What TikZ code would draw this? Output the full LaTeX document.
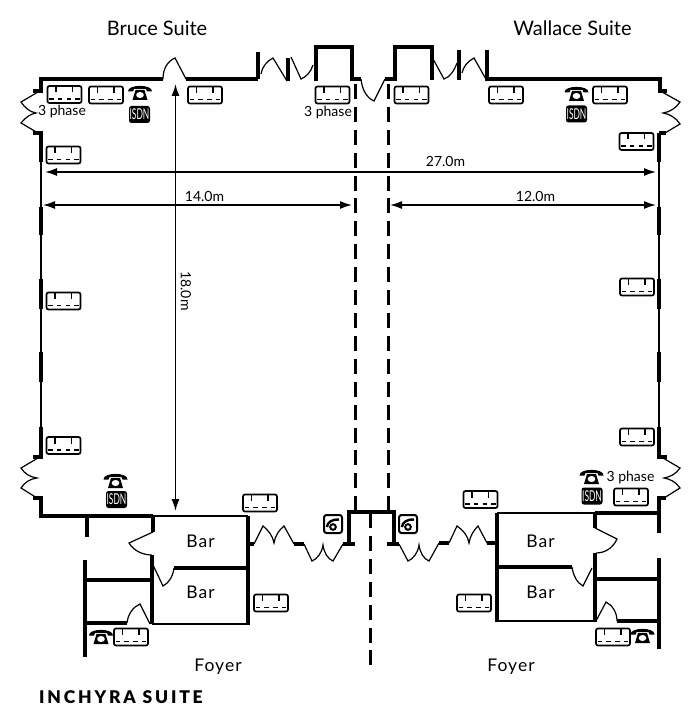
\documentclass[tikz,border=0pt]{standalone}
\usepackage{fontspec}
\setmainfont{Lato}
\newfontfamily\barfont[LetterSpace=6]{Lato}
\newfontfamily\titlefont[LetterSpace=16]{Lato Black}
\usetikzlibrary{arrows.meta}
\tikzset{
  wall/.style={line width=4pt},
  wallthin/.style={line width=2.4pt},
  wallhair/.style={line width=1.2pt},
  door/.style={line width=1.2pt},
  partition/.style={line width=3pt,dash pattern=on 15pt off 7.9pt},
  dimension/.style={line width=1.5pt,{Latex[length=12pt,width=8pt]}-{Latex[length=12pt,width=8pt]}},
  suitelabel/.style={font=\fontsize{20}{24}\selectfont},
  smalllabel/.style={font=\fontsize{14}{17}\selectfont},
  barlabel/.style={font=\barfont\fontsize{17.5}{21}\selectfont},
  every pic/.style={yscale=-1},
  socket/.pic={
    \draw [line width=1.7pt,rounded corners=2pt] (-17,-8.5) rectangle (17,8.5);
    \draw [line width=1.7pt] (-8.5,-8) -- (-8.5,-2) (8,-8) -- (8,-2);
    \draw [line width=1.7pt,dash pattern=on 4.5pt off 4.3pt] (-15.5,4.5) -- (15.5,4.5);
  },
  handset/.pic={
    \fill (-12,-1.5) .. controls (-12.5,-9) and (12.5,-9) .. (12,-1.5) -- (7,-1.5) -- (6,-4) -- (-6,-4) -- (-7,-1.5) -- cycle;
    \fill (-4.5,-3) -- (4.5,-3) -- (7.5,7) -- (-7.5,7) -- cycle;
    \fill [white] (0,2) ellipse (3.8 and 3);
  },
  isdn/.pic={
    \fill [rounded corners=2.5pt] (-10.5,-8.5) rectangle (10.5,8.5);
    \node (-label) [white,inner sep=0pt,font=\fontsize{15}{17}\selectfont,xscale=0.56] at (0,0) {ISDN};
  },
  wallphone/.pic={
    \draw [line width=2pt,rounded corners=2.5pt] (-9,-9) rectangle (9,9);
    \draw [line width=2pt] (0,3) circle (2.8);
    \draw [line width=2.4pt] (-6,3) .. controls (-6,-2) and (0,-5) .. (6,-4.5);
  }
}
\begin{document}
\begin{tikzpicture}[x=1pt,y=1pt,yscale=-1,xscale=1]
\useasboundingbox (0,0) rectangle (700,727);

%Outer wall, top left
\draw [wall] (33,91) -- (41,91) -- (41,79) -- (163,79) ;
\draw [wall] (186,79) -- (258,79) ;
\draw [wall] (258,79) -- (258,52) ;
\draw [wall] (288,58) -- (288,81) ;
\draw [wall] (315.5,81) -- (315.5,47) -- (351.5,47) -- (351.5,79) -- (361,79) ;
%Outer wall, top right
\draw [wall] (385,79) -- (395,79) -- (395,47) -- (432,47) -- (432,80) ;
\draw [wall] (459,50) -- (459,80) ;
\draw [wall] (487,50) -- (487,79) -- (660,79) -- (660,91) -- (667,91) ;

%Doors, top
\draw [door] (163,79) .. controls (163,68) and (168,61) .. (175,58) -- (186,79) ;
\draw [door] (261,74) .. controls (262,67) and (267,61) .. (273,58) -- (287,81) ;
\draw [door] (291,57) -- (301,79) .. controls (306,77) and (311,72) .. (313,65) ;
\draw [door] (361,79) .. controls (362,90) and (367,98) .. (374,101) -- (385,79) ;
\draw [door] (432,57) -- (444,79) .. controls (450,77) and (454,71) .. (457,63) ;
\draw [door] (462,73) .. controls (463,67) and (468,61) .. (474,58) -- (487,81) ;

%Side doors
\draw [door] (38,92) -- (21,102) .. controls (25,108) and (30,112) .. (36,113) .. controls (30,114) and (25,118) .. (21,123) -- (38,133) ;
\draw [door] (38,458) -- (21,468) .. controls (25,474) and (30,477) .. (37,478) .. controls (30,479) and (25,482) .. (21,488) -- (37,498) ;
\draw [door] (662,92) -- (680,102) .. controls (676,108) and (670,112) .. (663,113) .. controls (670,114) and (676,118) .. (680,124) -- (665,133) ;
\draw [door] (663,458) -- (680,468) .. controls (676,474) and (670,477) .. (664,478) .. controls (670,479) and (676,482) .. (680,488) -- (664,498) ;

%Left wall
\draw [wall] (33,133) -- (41,133) -- (41,162) ;
\draw [wallhair] (41,162) -- (41,427) ;
\draw [wall] (41,207) -- (41,235) ;
\draw [wall] (41,279) -- (41,309) ;
\draw [wall] (41,352) -- (41,382) ;
\draw [wall] (41,427) -- (41,457) -- (33,457) ;
\draw [wall] (33,498) -- (41,498) -- (41,516) -- (153,516) ;

%Right wall
\draw [wall] (659,133) -- (666,133) ;
\draw [wall] (659,133) -- (659,162) ;
\draw [wallhair] (659,162) -- (659,427) ;
\draw [wall] (659,207) -- (659,235) ;
\draw [wall] (659,279) -- (659,309) ;
\draw [wall] (659,352) -- (659,382) ;
\draw [wall] (659,427) -- (659,457) -- (667,457) ;
\draw [wall] (666,498) -- (659,498) -- (659,533) ;
\draw [wall] (595,513) -- (659,513) ;

%Left bars and back rooms
\draw [wall] (87,516) -- (87,537) ;
\draw [wall] (153,516) -- (153,532) ;
\draw [door] (153,532) -- (129,543) .. controls (134,551) and (143,555) .. (152,555) ;
\draw [wall] (152,555) -- (152,624) ;
\draw [wallthin] (152,516) -- (248,516) ;
\draw [wall] (248,516) -- (248,625) ;
\draw [wall] (174,568) -- (248,568) ;
\draw [door] (174,568) .. controls (173,576) and (169,583) .. (163,586) -- (153,565) ;
\draw [wallthin] (152,624) -- (248,624) ;
\draw [wall] (85,560) -- (85,657) ;
\draw [wall] (85,580) -- (152,580) ;
\draw [wall] (85,623) -- (127,623) ;
\draw [door] (127,623) .. controls (128,614) and (133,607) .. (140,604) -- (150,624) ;

%Right bars and back rooms
\draw [wall] (595,513) -- (595,528) ;
\draw [door] (595,528) -- (617,539) .. controls (613,548) and (605,553) .. (596,553) ;
\draw [wall] (595,553) -- (595,622) ;
\draw [wallthin] (497,513) -- (595,513) ;
\draw [wall] (497,513) -- (497,622) ;
\draw [wall] (497,567) -- (572,567) ;
\draw [door] (572,567) .. controls (573,575) and (577,583) .. (583,586) -- (592,568) ;
\draw [wallthin] (497,621) -- (595,621) ;
\draw [wall] (659,558) -- (659,649) ;
\draw [wall] (595,579) -- (659,579) ;
\draw [wall] (617,621) -- (659,621) ;
\draw [door] (596,621) -- (606,602) .. controls (612,605) and (617,612) .. (617,621) ;

%Doors to the foyer
\draw [wall] (248,544) -- (254,544) ;
\draw [door] (254,544) -- (263,526) .. controls (268,530) and (273,536) .. (274,543) .. controls (275,536) and (279,530) .. (284,526) -- (294,544) ;
\draw [wall] (294,544) -- (304,544) ;
\draw [door] (304,544) -- (312,561) .. controls (317,559) and (322,553) .. (323,545) .. controls (324,553) and (328,559) .. (333,561) -- (343,544) ;
\draw [wall] (343,544) -- (355,544) ;
\draw [wall] (348.5,544) -- (348.5,512) -- (393.5,512) -- (393.5,544) ;
\draw [wall] (387,544) -- (399,544) ;
\draw [door] (399,544) -- (408,561) .. controls (413,559) and (418,553) .. (419,545) .. controls (420,553) and (424,559) .. (429,561) -- (439,543) ;
\draw [wall] (439,543) -- (449,543) ;
\draw [door] (449,543) -- (457,526) .. controls (463,530) and (468,536) .. (469,543) .. controls (470,536) and (474,530) .. (478,526) -- (487,543) ;
\draw [wall] (487,543) -- (497,543) ;

%Partitions
\draw [partition] (355,84) -- (355,512) ;
\draw [partition] (388,84) -- (388,512) ;
\draw [partition] (370,513) -- (370,665) ;

%Straight Lines
\draw [dimension] (175.5,84) -- (175.5,511) ;
\draw [dimension] (45,172) -- (656,172) ;
\draw [dimension] (43,205) -- (352,205) ;
\draw [dimension] (390,205) -- (656,205) ;

%Sockets
\pic at (64.5,94.5) {socket};
\pic at (106,95) {socket};
\pic at (205,95) {socket};
\pic at (332.5,95) {socket};
\pic at (63.5,155) {socket};
\pic at (63.5,301) {socket};
\pic at (63.5,445.5) {socket};
\pic at (260,503) {socket};
\pic at (271,603) {socket};
\pic at (131,637) {socket};
\pic at (411.5,95) {socket};
\pic at (506,95) {socket};
\pic at (610,95) {socket};
\pic at (636.5,141.5) {socket};
\pic at (637,287) {socket};
\pic at (637,437) {socket};
\pic at (631,497) {socket};
\pic at (480.5,499.5) {socket};
\pic at (474,603) {socket};
\pic at (613,637) {socket};

%Telephones
\pic at (140,93) {handset};
\pic at (115.5,481) {handset};
\pic at (101,637) {handset};
\pic at (576.5,94) {handset};
\pic at (591.5,477) {handset};
\pic at (642.5,636) {handset};

%ISDN points
\pic (isdnTL) at (139.5,114.5) {isdn};
\pic (isdnBL) at (116.5,499.5) {isdn};
\pic (isdnTR) at (576.5,114) {isdn};
\pic (isdnBR) at (592,496) {isdn};

%Wall phones
\pic at (333,524) {wallphone};
\pic at (408,524) {wallphone};

% Text Node
\node (bruce) [suitelabel] at (157,28) {Bruce Suite};
\node (wallace) [suitelabel] at (572.5,28) {Wallace Suite};
\node (phaseL) [smalllabel] at (62,112) {3 phase};
\node (phaseM) [smalllabel] at (328,112.5) {3 phase};
\node (phaseR) [smalllabel] at (630.5,478) {3 phase};
\node (wide) [smalllabel] at (445.5,161) {27.0m};
\node (left) [smalllabel] at (204.5,196) {14.0m};
\node (right) [smalllabel] at (535.5,196) {12.0m};
\node (deep) [smalllabel,rotate=-90] at (186,291) {18.0m};
\node (barA) [barlabel] at (200.5,541.5) {Bar};
\node (barB) [barlabel] at (200.5,592.5) {Bar};
\node (barC) [barlabel] at (540.5,541.5) {Bar};
\node (barD) [barlabel] at (540.5,592.5) {Bar};
\node (foyerL) [barlabel] at (218,666.5) {Foyer};
\node (foyerR) [barlabel] at (511,666.5) {Foyer};
\node (title) [anchor=west,inner sep=0pt,font=\titlefont\fontsize{17.5}{21}\selectfont] at (39,697) {INCHYRA SUITE};

\end{tikzpicture}
\end{document}
